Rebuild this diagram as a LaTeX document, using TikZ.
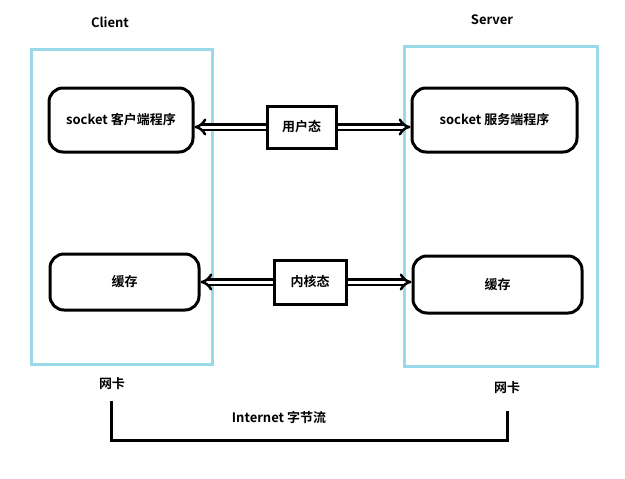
\documentclass[tikz,border=0pt]{standalone}
\usepackage{fontspec}
\setmainfont{Noto Sans CJK SC}[BoldFont={Noto Sans CJK SC Bold}]
\usetikzlibrary{arrows.meta}
\definecolor{hostblue}{RGB}{153,217,234}

\begin{document}
\begin{tikzpicture}[x=1pt,y=-1pt,
  font=\bfseries\fontsize{13}{15}\selectfont,
  host/.style={draw=hostblue,line width=3pt,inner sep=0pt},
  prog/.style={draw,rounded corners=14pt,line width=3pt,inner sep=0pt},
  mode/.style={draw,line width=3pt,inner sep=0pt},
  dbl/.style={double,double distance=3pt,line width=2.5pt,-{Implies[length=7pt,width=9pt]}}]
\useasboundingbox (0,0) rectangle (625,479);

\node[host,minimum width=181pt,minimum height=315pt] (cbox) at (121.5,206.5) {};
\node[host,minimum width=193pt,minimum height=320pt] (sbox) at (500.5,206) {};
\node (cl) at (110,22) {Client};
\node (sl) at (492,20) {Server};

\node[prog,minimum width=144pt,minimum height=64pt] (cs) at (121,120) {socket 客户端程序};
\node[prog,minimum width=165pt,minimum height=64pt] (ss) at (494.5,120) {socket 服务端程序};
\node[prog,minimum width=149pt,minimum height=56pt] (cc) at (124.5,282) {缓存};
\node[prog,minimum width=169pt,minimum height=57pt] (sc) at (497.5,284.5) {缓存};

\node[mode,minimum width=69pt,minimum height=42pt] (yh) at (301.5,127) {用户态};
\node[mode,minimum width=72pt,minimum height=44pt] (nh) at (310,282) {内核态};

\draw[dbl] (yh.west) -- (yh.west -| cs.east);
\draw[dbl] (yh.east) -- (yh.east -| ss.west);
\draw[dbl] (nh.west) -- (nh.west -| cc.east);
\draw[dbl] (nh.east) -- (nh.east -| sc.west);

\node (nl) at (112,384) {网卡};
\node (nr) at (507,388) {网卡};
\node (net) at (279,417) {Internet 字节流};
\coordinate (bend) at (111,440);
\draw[line width=3pt] ([yshift=-7pt]nl.south -| bend) -- (bend) -| ([yshift=-13pt]nr.south);
\end{tikzpicture}
\end{document}
